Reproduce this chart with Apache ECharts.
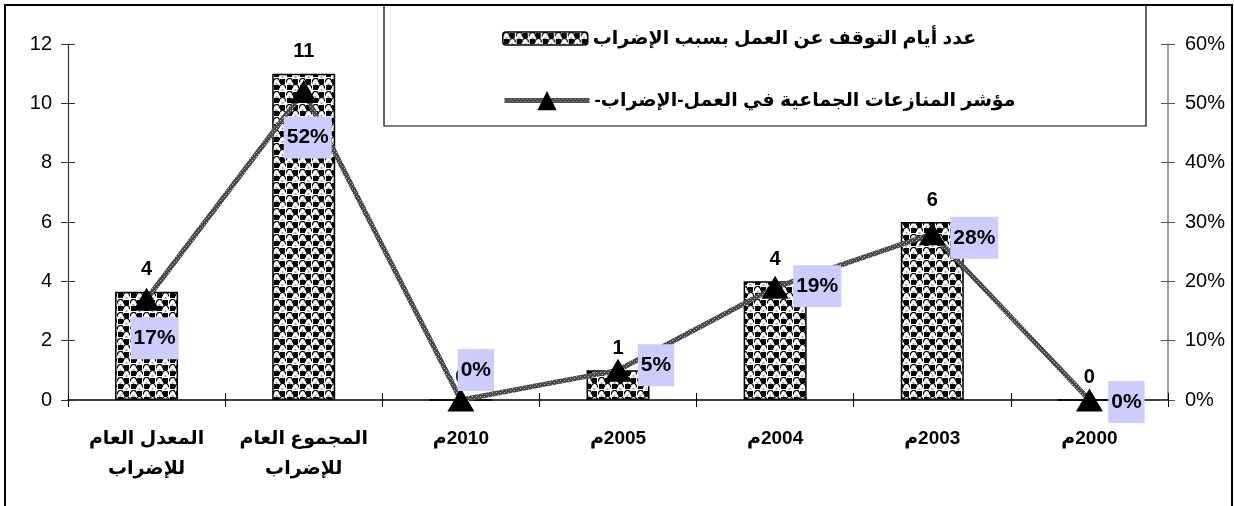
<!DOCTYPE html>
<html>
<head>
<meta charset="utf-8">
<style>
  html, body { margin: 0; padding: 0; background: #fff; }
  #chart { width: 1234px; height: 506px; }
</style>
<script src="https://cdn.jsdelivr.net/npm/echarts@6/dist/echarts.min.js"></script>
</head>
<body>
<div id="chart"></div>
<script>
// Categories (Arabic). RLE ... PDF keeps the year + "م" in right-to-left order.
const RLE = '\u202B', PDF = '\u202C';
const categories = [
  'المعدل العام\nللإضراب',
  'المجموع العام\nللإضراب',
  RLE + '2010م' + PDF,
  RLE + '2005م' + PDF,
  RLE + '2004م' + PDF,
  RLE + '2003م' + PDF,
  RLE + '2000م' + PDF
];

// Work-stoppage days caused by strikes (left axis)
const strikeDays = [3.65, 11, 0, 1, 4, 6, 0];

// Collective labour-dispute index, strikes (right axis, %)
const disputeIndex = [17, 52, 0, 5, 19, 28, 0];

// Offsets of the percentage boxes from each marker
const pctOffsets = [[8, 39], [4, 46], [15, -30], [38, -5], [42, -1], [42, 4], [37, 2]];

const leftTicks = { min: 0, max: 12, interval: 2 };
const rightTicks = { min: 0, max: 60, interval: 10 };

const seriesNames = [
  RLE + 'عدد أيام التوقف عن العمل بسبب الإضراب' + PDF,
  RLE + 'مؤشر المنازعات الجماعية في العمل-الإضراب-' + PDF
];

// Checkered fill with small circles for the bars
function makeBarPattern() {
  const c = document.createElement('canvas');
  c.width = 13; c.height = 13;
  const g = c.getContext('2d');
  g.fillStyle = '#fff';
  g.fillRect(0, 0, 13, 13);
  g.fillStyle = '#000';
  g.fillRect(7, 1, 5, 5);
  g.fillRect(1, 7, 5, 5);
  g.strokeStyle = '#000';
  g.lineWidth = 1.2;
  [[3.5, 3.5], [9.5, 9.5]].forEach(([x, y]) => {
    g.beginPath();
    g.arc(x, y, 3, Math.PI * 0.9, Math.PI * 2.1);
    g.stroke();
    g.fillStyle = '#555';
    g.fillRect(x - 1, y + 2, 2, 1);
  });
  return c;
}

// Stippled grey stroke for the index line
function makeLinePattern() {
  const c = document.createElement('canvas');
  c.width = 4; c.height = 4;
  const g = c.getContext('2d');
  g.fillStyle = '#4a4a4a';
  g.fillRect(0, 0, 4, 4);
  g.fillStyle = '#b0b0b0';
  g.fillRect(0, 0, 1, 1);
  g.fillRect(2, 2, 1, 1);
  return c;
}

const barFill = { image: makeBarPattern(), repeat: 'repeat' };
const lineFill = { image: makeLinePattern(), repeat: 'repeat' };

const FONT = 'Arial, "Liberation Sans", "DejaVu Sans", sans-serif';
const legendText = { fontFamily: FONT, fontSize: 19, fontWeight: 'bold', color: '#000' };

const chart = echarts.init(document.getElementById('chart'), null, { renderer: 'canvas' });

chart.setOption({
  animation: false,
  backgroundColor: '#fff',
  textStyle: { fontFamily: FONT },
  grid: { left: 68, right: 66, top: 44, bottom: 106, containLabel: false },
  legend: [
    {
      left: 502,
      top: 29,
      padding: 0,
      itemWidth: 85,
      itemHeight: 13,
      itemGap: 5,
      data: [{ name: seriesNames[0], itemStyle: { color: barFill, borderColor: '#000', borderWidth: 1.5 } }],
      textStyle: legendText
    },
    {
      left: 502,
      top: 91,
      padding: 0,
      itemWidth: 85,
      itemHeight: 24,
      data: [{ name: seriesNames[1] }],
      lineStyle: { color: lineFill, width: 5 },
      textStyle: legendText
    }
  ],
  graphic: [
    {
      type: 'rect', z: -1, silent: true,
      shape: { x: 5, y: 5, width: 1227, height: 510 },
      style: { fill: 'none', stroke: '#000', lineWidth: 2 }
    },
    {
      type: 'rect', z: 1, silent: true,
      shape: { x: 384, y: 5, width: 762, height: 121 },
      style: { fill: 'none', stroke: '#000', lineWidth: 1.2 }
    }
  ],
  xAxis: [
    {
      type: 'category',
      data: categories,
      boundaryGap: true,
      axisLine: { lineStyle: { color: '#000', width: 1.5 } },
      axisTick: { show: true, inside: false, length: 7, lineStyle: { color: '#000' } },
      axisLabel: {
        interval: 0,
        margin: 24,
        color: '#000',
        fontSize: 19,
        fontWeight: 'bold',
        lineHeight: 30,
        fontFamily: FONT
      }
    },
    {
      // inner halves of the category ticks
      type: 'category',
      data: categories,
      position: 'bottom',
      boundaryGap: true,
      axisLine: { show: false },
      axisTick: { show: true, inside: true, length: 7, lineStyle: { color: '#000' } },
      axisLabel: { show: false }
    }
  ],
  yAxis: [
    {
      type: 'value',
      position: 'left',
      min: leftTicks.min, max: leftTicks.max, interval: leftTicks.interval,
      axisLine: { show: true, lineStyle: { color: '#333', width: 1.2 } },
      axisTick: { show: true, length: 7, lineStyle: { color: '#333' } },
      splitLine: { show: false },
      axisLabel: { margin: 16, color: '#000', fontSize: 20, fontFamily: FONT }
    },
    {
      type: 'value',
      position: 'right',
      min: rightTicks.min, max: rightTicks.max, interval: rightTicks.interval,
      axisLine: { show: true, lineStyle: { color: '#808080', width: 1.5 } },
      axisTick: { show: true, length: 7, lineStyle: { color: '#555' } },
      splitLine: { show: false },
      axisLabel: { margin: 17, color: '#000', fontSize: 20, fontFamily: FONT, formatter: '{value}%' }
    },
    {
      // inner halves of the left ticks
      type: 'value',
      position: 'left',
      min: leftTicks.min, max: leftTicks.max, interval: leftTicks.interval,
      axisLine: { show: false },
      axisTick: { show: true, inside: true, length: 7, lineStyle: { color: '#333' } },
      splitLine: { show: false },
      axisLabel: { show: false }
    },
    {
      // inner halves of the right ticks
      type: 'value',
      position: 'right',
      min: rightTicks.min, max: rightTicks.max, interval: rightTicks.interval,
      axisLine: { show: false },
      axisTick: { show: true, inside: true, length: 7, lineStyle: { color: '#555' } },
      splitLine: { show: false },
      axisLabel: { show: false }
    }
  ],
  series: [
    {
      name: seriesNames[0],
      type: 'bar',
      yAxisIndex: 0,
      data: strikeDays,
      barWidth: 63,
      itemStyle: { color: barFill, borderColor: '#000', borderWidth: 1.5 },
      label: {
        show: true,
        position: 'top',
        distance: 12,
        color: '#000',
        fontSize: 20,
        fontWeight: 'bold',
        fontFamily: FONT,
        formatter: p => String(Math.round(p.value))
      },
      z: 2
    },
    {
      name: seriesNames[1],
      type: 'line',
      yAxisIndex: 1,
      data: disputeIndex.map((v, i) => ({
        value: v,
        label: { offset: pctOffsets[i] }
      })),
      symbol: 'triangle',
      symbolSize: [27, 23],
      showAllSymbol: true,
      itemStyle: { color: '#000' },
      lineStyle: { color: lineFill, width: 5 },
      label: {
        show: true,
        position: 'inside',
        color: '#000',
        fontSize: 21,
        fontWeight: 'bold',
        fontFamily: FONT,
        backgroundColor: '#ccccff',
        padding: [11, 3, 10, 3],
        formatter: p => p.value + '%'
      },
      z: 3
    }
  ]
});
</script>
</body>
</html>
